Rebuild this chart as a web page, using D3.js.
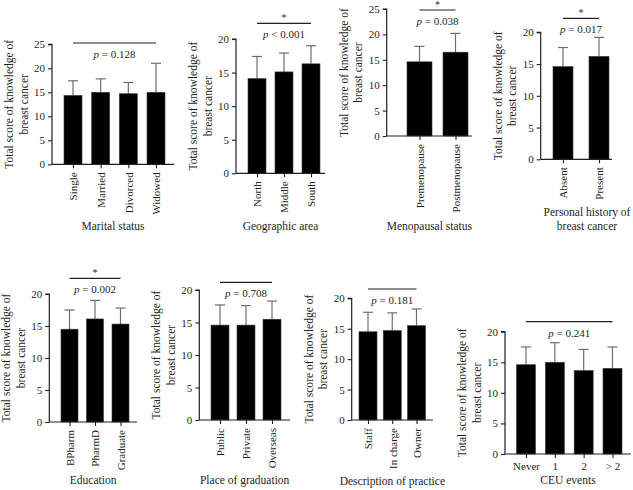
<!DOCTYPE html>
<html><head><meta charset="utf-8">
<script src="https://cdn.jsdelivr.net/npm/d3@7"></script>
<style>
body{margin:0;background:#fff;}
svg{display:block;}
text{font-family:"Liberation Serif","Times New Roman",serif;fill:#231f20;}
</style></head>
<body>
<svg id="chart" width="633" height="490"></svg>
<script>
// ---------- DATA ----------
const yTitleLines = ["Total score of knowledge of", "breast cancer"];

const maritalCats = ["Single", "Married", "Divorced", "Widowed"];
const maritalMean = [14.35, 15.0, 14.7, 15.0];
const maritalSD   = [3.05, 2.8, 2.35, 6.05];

const geoCats = ["North", "Middle", "South"];
const geoMean = [14.1, 15.1, 16.3];
const geoSD   = [3.3, 2.8, 2.7];

const menoCats = ["Premenopause", "Postmenopause"];
const menoMean = [14.6, 16.5];
const menoSD   = [3.05, 3.7];

const historyCats = ["Absent", "Present"];
const historyMean = [14.6, 16.2];
const historySD   = [3.0, 3.0];

const eduCats = ["BPharm", "PharmD", "Graduate"];
const eduMean = [14.5, 16.1, 15.3];
const eduSD   = [3.0, 2.9, 2.5];

const placeCats = ["Public", "Private", "Overseas"];
const placeMean = [14.6, 14.6, 15.5];
const placeSD   = [3.1, 3.0, 2.8];

const practiceCats = ["Staff", "In charge", "Owner"];
const practiceMean = [14.5, 14.7, 15.5];
const practiceSD   = [3.2, 2.9, 2.75];

const ceuCats = ["Never", "1", "2", "> 2"];
const ceuMean = [14.6, 15.0, 13.65, 14.0];
const ceuSD   = [2.9, 3.2, 3.45, 3.5];

const xTitles = [["Marital status"], ["Geographic area"], ["Menopausal status"],
  ["Personal history of", "breast cancer"], ["Education"], ["Place of graduation"],
  ["Description of practice"], ["CEU events"]];
const pValues = ["= 0.128", "< 0.001", "= 0.038", "= 0.017", "= 0.002", "= 0.708", "= 0.181", "= 0.241"];
const significant = [false, true, true, true, true, false, false, false];
const yMaxes = [25, 20, 25, 20, 20, 20, 20, 20];

// ---------- LAYOUT ----------
const layout = [
  {cats: maritalCats, mean: maritalMean, sd: maritalSD, ax: 52, axEnd: 174, yT: 44.3, y0: 164.3, c0: 73, c1: 156, bw: 18, sigY: 43, xtY: [226], rot: true},
  {cats: geoCats, mean: geoMean, sd: geoSD, ax: 236, axEnd: 325, yT: 39, y0: 173.3, c0: 257, c1: 311, bw: 18, sigY: 23.3, xtY: [226], rot: true},
  {cats: menoCats, mean: menoMean, sd: menoSD, ax: 386.7, axEnd: 472, yT: 9, y0: 136, c0: 419.5, c1: 455.5, bw: 25, sigY: 10, xtY: [226], rot: true},
  {cats: historyCats, mean: historyMean, sd: historySD, ax: 540.7, axEnd: 612, yT: 32.3, y0: 159.3, c0: 563, c1: 599, bw: 20, sigY: 18.3, xtY: [212, 226], rot: true},
  {cats: eduCats, mean: eduMean, sd: eduSD, ax: 49.3, axEnd: 137, yT: 294, y0: 422, c0: 69.5, c1: 120.5, bw: 17, sigY: 278.3, xtY: [480], rot: true},
  {cats: placeCats, mean: placeMean, sd: placeSD, ax: 199.3, axEnd: 290, yT: 290, y0: 420, c0: 220, c1: 272, bw: 18, sigY: 282.3, xtY: [480], rot: true},
  {cats: practiceCats, mean: practiceMean, sd: practiceSD, ax: 351.7, axEnd: 433, yT: 298.3, y0: 420, c0: 368, c1: 416.5, bw: 18, sigY: 289, xtY: [481], rot: true},
  {cats: ceuCats, mean: ceuMean, sd: ceuSD, ax: 505, axEnd: 631, yT: 331.7, y0: 454, c0: 526, c1: 612.5, bw: 19, sigY: 321.7, xtY: [480], rot: false}
];

const svg = d3.select("#chart");
const axisColor = "#231f20";
const errColor = "#6d6e71";
const serif = "Liberation Serif, Times New Roman, serif";

layout.forEach((p, i) => {
  const g = svg.append("g");
  const yMax = yMaxes[i];
  const y = d3.scaleLinear().domain([0, yMax]).range([p.y0, p.yT]);
  const x = d3.scalePoint().domain(p.cats).range([p.c0, p.c1]);
  const data = p.cats.map((c, k) => ({c, m: p.mean[k], s: p.sd[k]}));

  // error bars (upper only)
  const eb = g.selectAll(".eb").data(data).enter().append("g");
  eb.append("line").attr("x1", d => x(d.c)).attr("x2", d => x(d.c))
    .attr("y1", d => y(d.m)).attr("y2", d => y(d.m + d.s))
    .attr("stroke", errColor).attr("stroke-width", 1.2);
  eb.append("line").attr("x1", d => x(d.c) - 5).attr("x2", d => x(d.c) + 5)
    .attr("y1", d => y(d.m + d.s)).attr("y2", d => y(d.m + d.s))
    .attr("stroke", errColor).attr("stroke-width", 1.2);

  // bars
  g.selectAll(".bar").data(data).enter().append("rect")
    .attr("x", d => x(d.c) - p.bw / 2).attr("width", p.bw)
    .attr("y", d => y(d.m)).attr("height", d => p.y0 - y(d.m))
    .attr("fill", "#000").attr("stroke", "#3a3a3a").attr("stroke-width", 0.6);

  // y axis
  const yAxis = d3.axisLeft(y).tickValues(d3.range(0, yMax + 0.1, 5)).tickSize(4).tickPadding(3);
  const ya = g.append("g").attr("transform", `translate(${p.ax},0)`).call(yAxis)
    .attr("font-family", serif).attr("font-size", 11);
  ya.select(".domain").attr("stroke", axisColor).attr("stroke-width", 1.2).attr("d", `M-4,${p.yT}H0V${p.y0}`);
  ya.selectAll(".tick line").attr("stroke", axisColor).attr("stroke-width", 1.1);
  ya.selectAll(".tick text").attr("fill", axisColor);

  // x axis
  const xAxis = d3.axisBottom(x).tickSize(4).tickSizeOuter(0).tickPadding(4);
  const xa = g.append("g").attr("transform", `translate(0,${p.y0})`).call(xAxis)
    .attr("font-family", serif).attr("font-size", 11);
  xa.select(".domain").attr("stroke", axisColor).attr("stroke-width", 1.2).attr("d", `M${p.ax},0H${p.axEnd}`);
  xa.selectAll(".tick line").attr("stroke", axisColor).attr("stroke-width", 1.1);
  const xt = xa.selectAll(".tick text").attr("fill", axisColor);
  if (p.rot) {
    xt.attr("transform", "rotate(-90)").attr("text-anchor", "end")
      .attr("x", -8).attr("y", 0).attr("dy", "0.35em");
  }

  // y title
  const yMid = (p.y0 + p.yT) / 2;
  yTitleLines.forEach((t, k) => {
    g.append("text").attr("transform", `translate(${p.ax - 43 + k * 14.5},${yMid}) rotate(-90)`)
      .attr("text-anchor", "middle").attr("dy", "0.35em").attr("font-size", 11.5).text(t);
  });

  // x title
  const xMid = (p.ax + p.axEnd) / 2;
  xTitles[i].forEach((t, k) => {
    g.append("text").attr("x", i === 3 ? 587 : xMid).attr("y", p.xtY[k]).attr("dy", "0.35em")
      .attr("text-anchor", "middle").attr("font-size", 11.5).text(t);
  });

  // significance line
  const lx0 = x(p.cats[0]), lx1 = x(p.cats[p.cats.length - 1]);
  g.append("line").attr("x1", lx0).attr("x2", lx1).attr("y1", p.sigY).attr("y2", p.sigY)
    .attr("stroke", axisColor).attr("stroke-width", 1.2);
  const pt = g.append("text").attr("x", (lx0 + lx1) / 2).attr("y", p.sigY + 11).attr("dy", "0.35em")
    .attr("text-anchor", "middle").attr("font-size", 11);
  pt.append("tspan").attr("font-style", "italic").text("p");
  pt.append("tspan").text(" " + pValues[i]);
  if (significant[i]) {
    g.append("text").attr("x", (lx0 + lx1) / 2).attr("y", p.sigY - 6).attr("dy", "0.35em")
      .attr("text-anchor", "middle").attr("font-size", 10).attr("fill", errColor).text("*");
  }
});
</script>
</body></html>
